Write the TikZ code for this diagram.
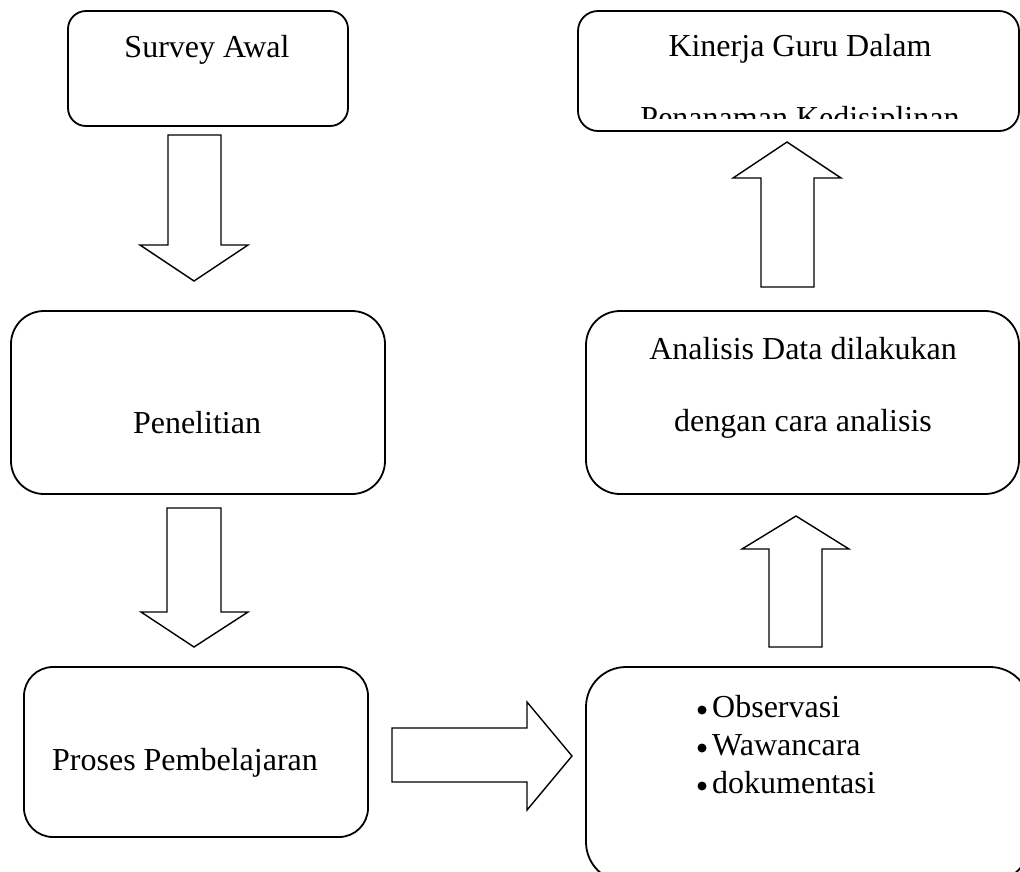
\documentclass[tikz,border=0pt]{standalone}
\usepackage{fontspec}
\setmainfont{Liberation Serif}
\begin{document}
\begin{tikzpicture}[x=1pt,y=-1pt,
  font=\fontsize{32}{38}\selectfont,
  box/.style={draw, line width=1.8pt, rounded corners=#1, inner sep=0pt},
  blk/.style={draw, line width=1.4pt, fill=white, line join=miter},
  txt/.style={inner sep=0pt, anchor=base}]
\useasboundingbox (0,0) rectangle (1020,871);
% boxes
\node[box=18pt, minimum width=280pt, minimum height=115pt] (survey) at (208,68.5) {};
\node[box=20pt, minimum width=441pt, minimum height=120pt] (kinerja) at (798.5,71) {};
\node[box=33pt, minimum width=374pt, minimum height=183pt] (penelitian) at (198,402.5) {};
\node[box=34pt, minimum width=433pt, minimum height=183pt] (analisis) at (802.5,402.5) {};
\node[box=29pt, minimum width=344pt, minimum height=170pt] (proses) at (196,752) {};
\begin{scope}
  \clip (0,0) rectangle (1020,871);
  \node[box=40pt, minimum width=444pt, minimum height=215pt] (metode) at (808,774.5) {};
\end{scope}
% texts
\node[txt] (tsurvey) at (207,57) {Survey Awal};
\node[txt] (tkinerja1) at (800,56) {Kinerja Guru Dalam};
\begin{scope}
  \clip (578,11) rectangle (1019,118);
  \node[txt] (tkinerja2) at (800,128) {Penanaman Kedisiplinan};
\end{scope}
\node[txt] (tpenelitian) at (197,433) {Penelitian};
\node[txt] (tanalisis1) at (803,359) {Analisis Data dilakukan};
\node[txt] (tanalisis2) at (803,431) {dengan cara analisis};
\node[txt] (tproses) at (185,770) {Proses Pembelajaran};
\fill (702,710) circle (4.5pt);
\fill (702,748) circle (4.5pt);
\fill (702,786) circle (4.5pt);
\node[txt, anchor=base west] (tobs) at (712,717) {Observasi};
\node[txt, anchor=base west] (twaw) at (712,755) {Wawancara};
\node[txt, anchor=base west] (tdok) at (712,793) {dokumentasi};
% block arrows
\draw[blk] (168,135)--(221,135)--(221,245)--(248,245)--(194,281)--(140,245)--(168,245)--cycle;
\draw[blk] (167,508)--(221,508)--(221,612)--(248,612)--(194,647)--(141,612)--(167,612)--cycle;
\draw[blk] (392,728)--(527,728)--(527,702)--(572,756)--(527,810)--(527,782)--(392,782)--cycle;
\draw[blk] (761,287)--(814,287)--(814,178)--(841,178)--(787,142)--(733,178)--(761,178)--cycle;
\draw[blk] (769,647)--(822,647)--(822,549)--(849,549)--(796,516)--(742,549)--(769,549)--cycle;
\end{tikzpicture}
\end{document}
